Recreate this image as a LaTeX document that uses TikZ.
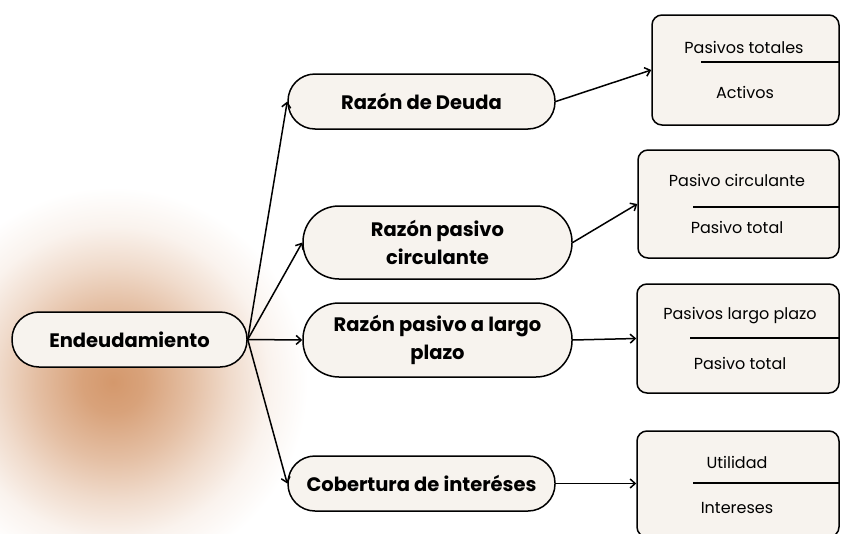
\documentclass[tikz,border=0pt]{standalone}
\usepackage{fontspec}
\setmainfont{Poppins}
\usetikzlibrary{arrows.meta}
\definecolor{glowc}{RGB}{212,152,108}
\definecolor{cream}{RGB}{247,243,238}
\pgfdeclareradialshading{glowshade}{\pgfpoint{0bp}{0bp}}{color(0bp)=(glowc); color(4bp)=(glowc!90!white); color(10bp)=(glowc!62!white); color(15bp)=(glowc!35!white); color(20bp)=(glowc!12!white); color(25bp)=(white); color(50bp)=(white)}
\tikzset{
  pill/.style={draw, line width=1.5pt, fill=cream, align=center, font=\fontsize{19.5}{28}\selectfont\bfseries, inner sep=0pt},
  fracbox/.style={draw, line width=1.5pt, fill=cream, rounded corners=10pt, inner sep=0pt},
  ftext/.style={font=\fontsize{16}{19}\selectfont, inner sep=0pt},
  conn/.style={line width=1.5pt, -{Straight Barb[length=5pt,width=9pt]}},
  fline/.style={line width=1.4pt}
}
\begin{document}
\begin{tikzpicture}[x=1pt,y=-1pt]
\useasboundingbox (0,0) rectangle (841,533);
\begin{scope}
\clip (0,0) rectangle (841,533);
\shade[shading=glowshade] (113,382) circle (195);
\end{scope}
% middle nodes
\node[pill, rounded corners=27pt, minimum width=235pt, minimum height=55pt] (E) at (129.5,339.5) {Endeudamiento};
\node[pill, rounded corners=27pt, minimum width=267pt, minimum height=55pt] (RD) at (421.5,101.5) {Razón de Deuda};
\node[pill, rounded corners=36pt, minimum width=269pt, minimum height=73pt] (RPC) at (437.5,242.5) {Razón pasivo\\circulante};
\node[pill, rounded corners=36pt, minimum width=269pt, minimum height=74pt] (RPL) at (437.5,340) {Razón pasivo a largo\\plazo};
\node[pill, rounded corners=27pt, minimum width=267pt, minimum height=55pt] (CI) at (421.5,483.5) {Cobertura de interéses};
% fraction boxes
\node[fracbox, minimum width=187pt, minimum height=110pt] (B1) at (745.5,70) {};
\node[fracbox, minimum width=201pt, minimum height=108pt] (B2) at (738.5,204) {};
\node[fracbox, minimum width=202pt, minimum height=109pt] (B3) at (738,338.5) {};
\node[fracbox, minimum width=202pt, minimum height=106pt] (B4) at (738,484) {};
\node[ftext] (B1n) at (744,47) {Pasivos totales};
\node[ftext] (B1d) at (745,92) {Activos};
\node[ftext] (B2n) at (737,180) {Pasivo circulante};
\node[ftext] (B2d) at (737,227) {Pasivo total};
\node[ftext] (B3n) at (740,316) {Pasivos largo plazo};
\node[ftext] (B3d) at (740,363) {Pasivo total};
\node[ftext] (B4n) at (737,462) {Utilidad};
\node[ftext] (B4d) at (737,508) {Intereses};
\draw[fline] (701,62) -- (B1.east |- 701,62);
\draw[fline] (693,207) -- (B2.east |- 693,207);
\draw[fline] (690,338) -- (B3.east |- 690,338);
\draw[fline] (693,483) -- (B4.east |- 693,483);
% connectors
\draw[conn] (E.east) -- (RD.west);
\draw[conn] (E.east) -- (RPC.west);
\draw[conn] (E.east) -- (RPL.west);
\draw[conn] (E.east) -- (CI.west);
\draw[conn] (RD.east) -- (B1.west);
\draw[conn] (RPC.east) -- (B2.west);
\draw[conn] (RPL.east) -- (B3.west);
\draw[conn] (CI.east) -- (B4.west |- CI.east);
\end{tikzpicture}
\end{document}
